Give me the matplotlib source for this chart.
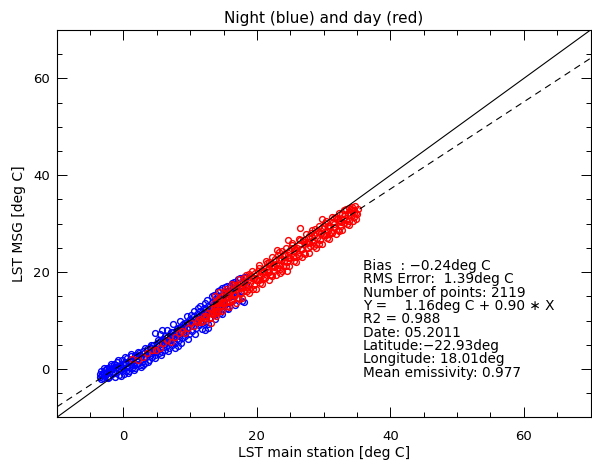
import matplotlib
matplotlib.use("Agg")
import matplotlib.pyplot as plt
from matplotlib.ticker import MultipleLocator

# night points (blue)
night_x = [-3.5, -3.5, -3.3, -3.1, -3.0, -2.8, -2.7, -2.5, -2.4, -2.2, -2.0, -1.9, -1.7, -1.5,
           -1.4, -1.2, -1.0, -0.9, -0.7, -0.5, -0.4, -0.2, 0.0, 0.1, 0.3, 0.5, 0.6, 0.8, 1.0,
           1.1, 1.3, 1.5, 1.6, 1.8, 2.0, 2.1, 2.3, 2.5, 2.6, 2.8, 3.0, 3.1, 3.3, 3.5, 3.6, 3.8,
           4.0, 4.1, 4.3, 4.5, 4.6, 4.8, 4.8, 5.0, 5.1, 5.3, 5.5, 5.6, 5.8, 5.8, 6.0, 6.1, 6.3,
           6.5, 6.6, 6.8, 7.0, 7.1, 7.3, 7.5, 7.6, 7.8, 8.0, 8.1, 8.2, 8.3, 8.5, 8.6, 8.8, 9.0,
           9.1, 9.3, 9.5, 9.6, 9.8, 10.0, 10.1, 10.3, 10.5, 10.6, 10.8, 11.0, 11.1, 11.3, 11.5,
           11.6, 11.8, 12.0, 12.2, 12.2, 12.4, 12.6, 12.7, 12.8, 13.0, 13.2, 13.3, 13.5, 13.7,
           13.8, 14.0, 14.2, 14.3, 14.5, 14.6, 14.8, 14.9, 15.1, 15.3, 15.5, 15.6, 15.9, 16.1,
           16.3, 16.6, 16.9, 17.2, 17.5, 17.8, 18.0, 18.0, 18.4,
           -3.2, -2.6, -2.1, -1.6, -1.1, -0.6, -0.1, 0.4, 0.9, 1.4, 1.9, 2.4, 2.9, 3.4, 3.9, 4.4,
           4.9, 5.4, 5.9, 6.4, 6.9, 7.4, 7.9, 8.4, 8.9, 9.4, 9.9, 10.4, 10.9, 11.4, 11.9, 12.4,
           12.9, 13.4, 13.9, 14.4, 14.9, 15.4, 16.0, 16.5, 17.0, 17.6,
           -3.4, -2.9, -2.3, -1.8, -1.3, -0.8, -0.3, 0.2, 0.7, 1.2, 1.7, 2.2, 2.7, 3.2, 3.7, 4.2,
           4.7, 5.2, 5.7, 6.2, 6.7, 7.2, 7.7, 8.2, 8.7, 9.2, 9.7, 10.2, 10.7, 11.2, 11.7, 12.2,
           12.7, 13.2, 13.7, 14.2, 14.7, 15.2, 15.7, 16.2, 16.7, 17.2, 17.7, 18.3,
           -2.9, -1.9, -0.9, 0.1, 1.1, 2.1, 3.1, 4.1, 5.1, 6.1, 7.1, 8.1, 9.1, 10.1, 11.1, 12.1,
           13.1, 14.1, 15.1, 16.1, 17.1,
           5.5, 6.5, 7.5, 8.5, 9.5, 10.5, 11.5, 12.5, 13.5, 14.5, 15.5, 16.5]
night_y = [-1.0, -1.6, -0.5, -1.9, -0.9, -0.2, -1.4, -0.7, 0.2, -1.7, -0.4, 0.6, -1.1, 0.1,
           1.0, -0.8, 0.4, 1.5, -1.3, 0.7, -0.3, 1.8, 0.2, -1.0, 1.4, 0.5, 2.2, -0.5, 1.1,
           2.6, 0.3, 1.8, -0.2, 2.9, 1.0, 2.1, 3.4, 0.8, 2.6, 1.5, 3.8, 2.2, 1.3, 4.1, 3.0, 1.9,
           4.6, 3.4, 2.4, 5.0, 3.8, 7.5, 2.9, 5.3, 4.2, 3.2, 5.7, 4.6, 8.1, 3.6, 6.2, 5.1, 4.0,
           6.7, 5.5, 4.4, 7.2, 6.0, 4.9, 7.7, 6.4, 5.3, 8.2, 7.0, 4.7, 5.9, 8.7, 7.4, 6.3, 9.3,
           8.0, 6.8, 9.8, 8.5, 7.3, 10.3, 9.0, 7.9, 10.9, 9.6, 8.4, 11.4, 10.1, 9.0, 12.0,
           10.7, 9.5, 12.6, 8.1, 11.2, 10.0, 13.1, 8.5, 11.8, 10.6, 13.7, 12.4, 11.2, 14.4,
           13.0, 11.7, 15.0, 13.6, 11.6, 12.4, 16.7, 14.3, 13.0, 16.0, 12.6, 14.8, 17.1, 15.3,
           14.0, 17.6, 15.9, 14.6, 18.8, 16.9, 13.9, 19.0, 17.5,
           -1.2, -1.1, 0.3, -0.6, 0.8, 0.0, 1.1, -0.4, 1.7, 0.9, 1.9, 2.8, 0.9, 2.5, 3.5, 4.2,
           3.6, 4.9, 5.6, 4.7, 6.1, 5.7, 7.4, 6.8, 8.6, 7.7, 9.4, 8.8, 10.5, 9.8, 11.5, 12.3,
           12.0, 13.3, 12.3, 14.5, 13.5, 15.4, 16.2, 15.1, 17.0, 16.2,
           -2.0, 0.3, -1.9, 1.0, -1.6, 1.9, -1.4, 2.5, -0.9, 3.1, 0.1, 3.6, 0.5, 4.3, 1.4, 5.0,
           2.2, 5.9, 2.9, 6.8, 3.7, 7.6, 4.4, 8.5, 5.3, 9.5, 6.2, 11.2, 7.2, 12.5, 8.2, 13.7,
           9.3, 15.0, 10.4, 16.2, 11.4, 17.0, 12.3, 17.8, 13.2, 18.6, 14.1, 19.0,
           -0.9, -0.1, 0.4, 0.8, 1.6, 2.6, 3.2, 4.3, 5.0, 6.0, 6.8, 7.8, 8.6, 9.7, 10.4, 11.4,
           12.2, 13.3, 14.1, 15.0, 16.0,
           7.3, 8.0, 9.2, 10.0, 11.0, 12.0, 13.1, 14.2, 15.3, 16.3, 17.2, 18.0]

# day points (red)
day_x = [1.3, 2.2, 3.0, 3.6, 4.3, 4.9, 5.5, 6.0, 6.5, 7.1, 7.8, 8.3, 8.8, 9.3, 9.7, 10.2,
         10.6, 11.2, 11.6, 12.0, 12.3, 12.7, 13.0, 13.3, 13.7, 14.0, 14.2, 14.5,
         11.0, 11.4, 11.9, 12.4, 12.9, 13.4, 13.9, 13.1,
         13.5, 13.62, 13.75, 13.87,
         14.0, 14.12, 14.25, 14.37, 14.5, 14.62, 14.75, 14.87, 15.0, 15.12, 15.25, 15.37,
         15.5, 15.62, 15.75, 15.87, 16.0, 16.12, 16.25, 16.37, 16.5, 16.62, 16.75, 16.87,
         17.0, 17.12, 17.25, 17.37, 17.5, 17.62, 17.75, 17.87, 18.0, 18.12, 18.25, 18.37,
         18.5, 18.62, 18.75, 18.87, 19.0, 19.12, 19.25, 19.37, 19.5, 19.62, 19.75, 19.87,
         20.0, 20.12, 20.25, 20.37, 20.5, 20.62, 20.75, 20.87, 21.0, 21.12, 21.25, 21.37,
         21.5, 21.62, 21.75, 21.87, 22.0, 22.12, 22.25, 22.37, 22.5, 22.62, 22.75, 22.87,
         23.0, 23.12, 23.25, 23.37, 23.5, 23.62, 23.75, 23.87, 24.0, 24.12, 24.25, 24.37,
         24.5, 24.62, 24.75, 24.87, 25.0, 25.12, 25.25, 25.37, 25.5, 25.62, 25.75, 25.87,
         26.0, 26.12, 26.25, 26.37, 26.5, 26.62, 26.75, 26.87, 27.0, 27.12, 27.25, 27.37,
         27.5, 27.62, 27.75, 27.87, 28.0, 28.12, 28.25, 28.37, 28.5, 28.62, 28.75, 28.87,
         29.0, 29.12, 29.25, 29.37, 29.5, 29.62, 29.75, 29.87, 30.0, 30.12, 30.25, 30.37,
         30.5, 30.62, 30.75, 30.87, 31.0, 31.12, 31.25, 31.37, 31.5, 31.62, 31.75, 31.87,
         32.0, 32.12, 32.25, 32.37, 32.5, 32.62, 32.75, 32.87, 33.0, 33.12, 33.25, 33.37,
         33.5, 33.62, 33.75, 33.87, 34.0, 34.12, 34.25, 34.37, 34.5, 34.62, 34.75, 34.87,
         35.0, 35.1,
         26.5, 24.7, 23.0, 24.5, 23.5, 29.7, 22.0, 21.7,
         13.8, 14.3, 14.8, 15.3, 15.8, 16.3, 16.8, 17.3, 17.8,
         18.3, 18.8, 19.3, 19.8, 20.3, 20.8, 21.3, 21.8, 22.3, 22.8, 23.3, 23.8, 24.3, 24.8,
         25.3, 25.8, 26.3, 26.8, 27.3, 27.8, 28.3, 28.8, 29.3, 29.8, 30.3, 30.8, 31.3, 31.8,
         32.3, 32.8, 33.3, 33.8, 34.3, 34.8,
         13.6, 14.6, 15.6, 16.6, 17.6, 18.6, 19.6, 20.6, 21.6, 22.6, 23.6, 24.6,
         25.6, 26.6, 27.6, 28.6, 29.6, 30.6, 31.6, 32.6, 33.6, 34.6]
day_y = [2.1, 1.9, 2.5, 3.3, 4.0, 4.0, 4.4, 5.4, 6.0, 5.6, 6.5, 7.5, 7.8, 7.4, 8.5, 9.4,
         8.9, 10.2, 9.8, 11.0, 10.5, 11.6, 12.3, 11.4, 12.8, 12.0, 13.6, 13.0,
         9.6, 10.4, 9.9, 11.0, 10.6, 12.0, 11.5, 9.5,
         11.4, 13.7, 15.0, 11.9,
         13.1, 14.5, 14.3, 11.9, 12.7, 14.2, 15.1, 13.7, 13.7, 15.7, 16.2, 13.8,
         13.1, 15.6, 15.3, 13.9, 15.6, 14.4, 14.1, 16.4, 17.3, 15.5, 15.4, 17.4,
         17.0, 14.7, 14.4, 16.8, 16.7, 15.6, 18.1, 17.0, 16.1, 18.8, 17.9, 16.9,
         16.0, 18.3, 19.6, 16.5, 17.8, 19.2, 18.9, 16.5, 17.3, 18.8, 19.8, 18.4,
         18.3, 20.3, 20.8, 18.4, 17.8, 20.3, 19.9, 18.5, 20.2, 19.0, 18.8, 21.1,
         21.9, 20.1, 20.0, 22.0, 21.7, 19.4, 19.1, 21.5, 21.3, 20.2, 22.8, 21.7,
         20.8, 23.5, 22.5, 21.5, 20.7, 23.0, 24.3, 21.2, 22.4, 23.8, 23.6, 21.2,
         22.0, 23.5, 24.4, 23.0, 23.0, 25.0, 25.5, 23.1, 22.4, 24.9, 24.6, 23.2,
         24.9, 23.7, 23.4, 25.7, 26.6, 24.8, 24.7, 26.7, 26.3, 24.0, 23.7, 26.1,
         26.0, 24.9, 27.4, 26.3, 25.4, 28.1, 27.2, 26.2, 25.3, 27.6, 28.9, 25.8,
         27.1, 28.5, 28.2, 25.8, 26.6, 28.1, 29.1, 27.7, 27.6, 29.6, 30.1, 27.7,
         27.1, 29.6, 29.2, 27.8, 29.5, 28.3, 28.1, 30.4, 31.2, 29.4, 29.3, 31.3,
         31.0, 28.7, 28.4, 30.8, 30.6, 29.5, 32.1, 31.0, 30.1, 32.8, 31.8, 30.8,
         30.0, 32.3, 33.3, 30.5, 31.7, 33.1, 32.9, 30.5, 31.3, 32.8, 33.7, 32.3,
         32.0, 33.0,
         29.1, 26.7, 24.6, 20.2, 19.8, 31.0, 19.5, 20.5,
         10.9, 15.8, 11.9, 16.6, 12.8, 17.6, 13.7, 18.5, 14.7,
         19.5, 15.6, 20.3, 16.5, 21.4, 17.5, 22.2, 18.4, 23.2, 19.4, 24.1, 20.3, 25.0, 21.2,
         26.0, 22.1, 26.9, 23.1, 27.8, 24.0, 28.8, 24.9, 29.6, 25.9, 30.6, 26.8, 31.4, 27.8,
         32.3, 28.7, 33.0, 29.8, 33.4, 31.0,
         12.6, 13.6, 15.1, 15.5, 16.9, 17.3, 18.8, 19.2, 20.7, 21.0, 22.5, 22.9,
         24.4, 24.8, 26.3, 26.6, 28.1, 28.5, 30.0, 30.3, 31.8, 32.2]

# regression from the stats box
fit_intercept = 1.16
fit_slope = 0.90

x_ticks = [0, 20, 40, 60]
y_ticks = [0, 20, 40, 60]

stats_lines = [
    "Bias  : \u22120.24deg C",
    "RMS Error:  1.39deg C",
    "Number of points: 2119",
    "Y =    1.16deg C + 0.90 \u2217 X",
    "R2 = 0.988",
    "Date: 05.2011",
    "Latitude:\u221222.93deg",
    "Longitude: 18.01deg",
    "Mean emissivity: 0.977",
]


def main():
    fig = plt.figure(figsize=(5.92, 4.63), dpi=100)
    ax = fig.add_axes([0.0958, 0.0985, 0.9017, 0.8367])

    ax.plot(night_x, night_y, linestyle="none", marker="o", ms=4.2,
            mfc="none", mec="#0000ff", mew=1.0)
    ax.plot(day_x, day_y, linestyle="none", marker="o", ms=4.2,
            mfc="none", mec="#ff0000", mew=1.0)

    # 1:1 line and the fitted line
    ax.axline((0, 0), slope=1.0, color="black", lw=0.8)
    ax.axline((0, fit_intercept), slope=fit_slope, color="black", lw=0.8,
              dashes=(6, 4.5))

    ax.set_xlim(-10, 70)
    ax.set_ylim(-10, 70)
    ax.set_xticks(x_ticks)
    ax.set_yticks(y_ticks)
    ax.xaxis.set_minor_locator(MultipleLocator(5))
    ax.yaxis.set_minor_locator(MultipleLocator(5))
    ax.tick_params(which="both", direction="in", top=True, right=True,
                   labelsize=9.5, width=0.7)
    ax.tick_params(which="major", length=7)
    ax.tick_params(which="minor", length=3.5)
    ax.tick_params(axis="x", pad=9)
    ax.tick_params(axis="y", pad=5)
    for s in ax.spines.values():
        s.set_linewidth(0.8)

    ax.set_title("Night (blue) and day (red)", fontsize=11, pad=5)
    ax.set_xlabel("LST main station [deg C]", fontsize=10, labelpad=2)
    ax.set_ylabel("LST MSG [deg C]", fontsize=10, labelpad=5)

    for i, line in enumerate(stats_lines):
        ax.text(0.573, 0.391 - i * 0.0344, line, transform=ax.transAxes,
                fontsize=9.8, va="center", ha="left")

    fig.savefig("out.png", dpi=100)


if __name__ == "__main__":
    main()
